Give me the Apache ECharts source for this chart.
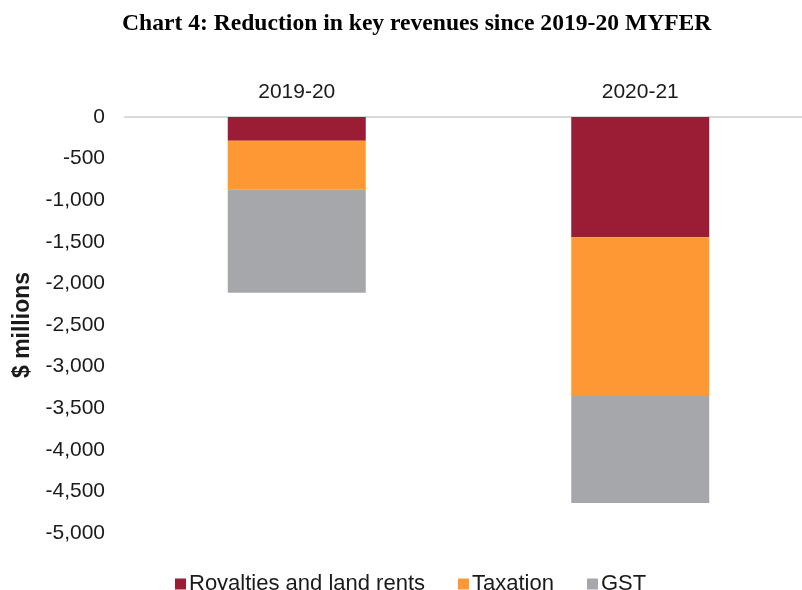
<!DOCTYPE html>
<html>
<head>
<meta charset="utf-8">
<script src="https://cdn.jsdelivr.net/npm/echarts@6/dist/echarts.min.js"></script>
<style>
  html, body { margin: 0; padding: 0; background: #fff; }
  #chart { width: 802px; height: 590px; }
</style>
</head>
<body>
<div id="chart"></div>
<script>
// categories and series ($ millions)
const years = ["2019-20", "2020-21"];
const royalties = [-285, -1445];
const taxation = [-582, -1907];
const gst = [-1245, -1288];

const fmt = (v) => v.toLocaleString("en-US");

const myChart = echarts.init(document.getElementById("chart"));
const barStyle = (name, data, color) => ({
  name: name,
  type: "bar",
  stack: "total",
  barWidth: 138,
  itemStyle: { color: color },
  data: data,
});

myChart.setOption({
  animation: false,
  title: {
    text: "Chart 4: Reduction in key revenues since 2019-20 MYFER",
    left: 117,
    top: 7,
    textStyle: {
      fontFamily: "Liberation Serif",
      fontWeight: "bold",
      fontSize: 23.6,
      color: "#000",
    },
  },
  legend: {
    top: 568,
    left: 170,
    itemWidth: 11,
    itemHeight: 11,
    itemGap: 33,
    icon: "rect",
    textStyle: { fontFamily: "Liberation Sans", fontSize: 22, color: "#1a1a1a", padding: [0, 0, 0, -2] },
    data: ["Royalties and land rents", "Taxation", "GST"],
  },
  grid: { left: 125, right: -10, top: 117, height: 416, outerBoundsMode: "none" },
  xAxis: {
    type: "category",
    position: "top",
    data: years,
    axisTick: { show: false },
    axisLine: { lineStyle: { color: "#d9d9d9", width: 2 } },
    axisLabel: { fontFamily: "Liberation Sans", fontSize: 21, color: "#1a1a1a", margin: 14 },
  },
  yAxis: {
    type: "value",
    min: -5000,
    max: 0,
    interval: 500,
    name: "$ millions",
    nameLocation: "middle",
    nameGap: 90,
    nameTextStyle: { fontFamily: "Liberation Sans", fontWeight: "bold", fontSize: 23, color: "#1a1a1a" },
    axisLine: { show: false },
    axisTick: { show: false },
    splitLine: { show: false },
    axisLabel: { fontFamily: "Liberation Sans", fontSize: 21, color: "#1a1a1a", margin: 20, formatter: fmt },
  },
  series: [
    barStyle("Royalties and land rents", royalties, "#9b1c35"),
    barStyle("Taxation", taxation, "#fd9834"),
    barStyle("GST", gst, "#a6a7aa"),
  ],
});
</script>
</body>
</html>
